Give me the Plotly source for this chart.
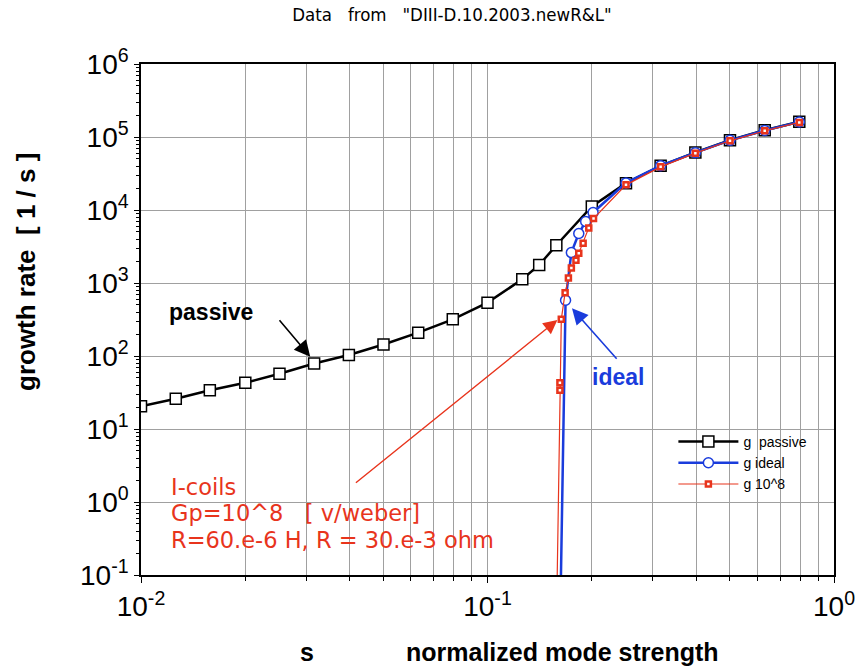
import plotly.graph_objects as go

# ---- data ----
s_passive = [0.01, 0.0126, 0.0158, 0.02, 0.0251, 0.0316, 0.0398, 0.0501, 0.0631, 0.0794,
             0.1, 0.126, 0.141, 0.158, 0.2, 0.251, 0.316, 0.398, 0.501, 0.631, 0.794]
g_passive = [20.5, 26, 34, 43, 57, 79, 103, 144, 209, 318,
             538, 1125, 1766, 3290, 11200, 23300, 40300, 61500, 90600, 124000, 162000]

s_ideal = [0.1603, 0.168, 0.1746, 0.1834, 0.192, 0.2017, 0.251, 0.316, 0.398, 0.501, 0.631, 0.794]
g_ideal = [0.001, 580, 2610, 4770, 6950, 9250, 23500, 40500, 61000, 90000, 123000, 161000]

s_coil = [0.1565, 0.1618, 0.1618, 0.1633, 0.1675, 0.1712, 0.1746, 0.180, 0.1834, 0.1888,
          0.196, 0.2023, 0.251, 0.316, 0.398, 0.501, 0.631, 0.794]
g_coil = [0.001, 34, 43, 318, 738, 1172, 1607, 2046, 2552, 3510,
          5690, 7640, 22100, 39000, 60100, 88700, 121600, 158500]

x_tickvals = [0.01, 0.1, 1]
x_ticktext = ["10<sup>-2</sup>", "10<sup>-1</sup>", "10<sup>0</sup>"]
y_tickvals = [0.1, 1, 10, 100, 1000, 1e4, 1e5, 1e6]
y_ticktext = ["10<sup>-1</sup>", "10<sup>0</sup>", "10<sup>1</sup>", "10<sup>2</sup>",
              "10<sup>3</sup>", "10<sup>4</sup>", "10<sup>5</sup>", "10<sup>6</sup>"]

BLACK = "#000000"
BLUE = "#1a3cdc"
RED = "#e8341c"
FONT = "Arial, Liberation Sans, sans-serif"
WIDE = "DejaVu Sans, Verdana, sans-serif"
NB = "&nbsp;"

L, R, T, B = 141, 840, 64, 575
W, H = R - L, B - T


def px(xp):
    return (xp - L) / W


def py(yp):
    return (B - yp) / H


fig = go.Figure()
fig.add_trace(go.Scatter(
    x=s_passive, y=g_passive, mode="lines+markers", name="g" + NB + NB + "passive",
    line=dict(color=BLACK, width=2.5),
    marker=dict(symbol="square", size=11, color="white", line=dict(color=BLACK, width=1.5)),
))
fig.add_trace(go.Scatter(
    x=s_ideal, y=g_ideal, mode="lines+markers", name="g ideal",
    line=dict(color=BLUE, width=2.5),
    marker=dict(symbol="circle", size=10, color="white", line=dict(color=BLUE, width=1.5)),
))
fig.add_trace(go.Scatter(
    x=s_coil, y=g_coil, mode="lines+markers", name="g 10^8",
    line=dict(color=RED, width=1.2),
    marker=dict(symbol="square", size=5, color="white", line=dict(color=RED, width=2.5)),
))


def label(xp, yp, text, font, xanchor="center", angle=0):
    return dict(x=px(xp), y=py(yp), xref="paper", yref="paper", showarrow=False,
                xanchor=xanchor, yanchor="middle", textangle=angle, text=text, font=font)


anns = [
    dict(x=-1.5116, y=1.99, xref="x", yref="y", ax=-32, ay=-38, showarrow=True,
         arrowhead=2, arrowsize=2, arrowwidth=1.6, arrowcolor=BLACK, text=""),
    dict(x=-0.7562, y=2.653, xref="x", yref="y", ax=46, ay=52, showarrow=True,
         arrowhead=2, arrowsize=2, arrowwidth=1.6, arrowcolor=BLUE, text=""),
    dict(x=-0.7983, y=2.493, xref="x", yref="y", ax=-203, ay=164, showarrow=True,
         arrowhead=2, arrowsize=2, arrowwidth=1.4, arrowcolor=RED, text=""),
    label(212, 312, "<b>passive</b>", dict(family=FONT, size=23, color=BLACK)),
    label(622, 377, "<b>ideal</b>", dict(family=FONT, size=23, color=BLUE)),
    label(169, 487, "I-coils", dict(family=WIDE, size=22.5, color=RED), xanchor="left"),
    label(169, 513, "Gp=10^8" + NB * 3 + "[" + NB + "v/weber]",
          dict(family=WIDE, size=22.5, color=RED), xanchor="left"),
    label(169, 540, "R=60.e-6 H, R = 30.e-3 ohm", dict(family=WIDE, size=22.5, color=RED),
          xanchor="left"),
    # axis titles
    label(25, 272, "<b>growth rate" + NB * 2 + "[ 1 / s ]</b>",
          dict(family=FONT, size=26, color=BLACK), angle=-90),
    label(308, 652, "<b>s</b>", dict(family=FONT, size=25, color=BLACK)),
    label(566, 652, "<b>normalized mode strength</b>", dict(family=FONT, size=25, color=BLACK)),
]

fig.update_layout(
    width=867, height=667,
    margin=dict(l=L, r=867 - R, t=T, b=667 - B),
    paper_bgcolor="white", plot_bgcolor="white",
    title=dict(text="Data" + NB * 3 + "from" + NB * 3 + '"DIII-D.10.2003.newR&L"',
               x=452 / 867, xanchor="center", y=1 - 15 / 667, yanchor="middle",
               font=dict(family="DejaVu Sans Condensed, Arial, sans-serif", size=18.5, color=BLACK)),
    showlegend=True,
    legend=dict(x=px(678), y=py(426), xanchor="left", yanchor="top",
                bgcolor="rgba(0,0,0,0)", borderwidth=0, itemwidth=60,
                font=dict(family=FONT, size=14, color=BLACK), tracegroupgap=0),
    annotations=anns,
)

fig.update_xaxes(
    type="log", range=[-2, 0],
    tickvals=x_tickvals, ticktext=x_ticktext,
    tickfont=dict(family=FONT, size=28, color=BLACK),
    ticks="outside", ticklen=6, tickcolor=BLACK,
    showgrid=True, gridcolor="#a0a0a0", gridwidth=1.2,
    minor=dict(dtick="D1", showgrid=True, gridcolor="#a0a0a0", gridwidth=1.2,
               ticks="outside", ticklen=4, tickcolor=BLACK),
    showline=True, linecolor=BLACK, linewidth=1.5, mirror=True,
    zeroline=False,
)
fig.update_yaxes(
    type="log", range=[-1, 6],
    tickvals=y_tickvals, ticktext=y_ticktext,
    tickfont=dict(family=FONT, size=28, color=BLACK),
    ticks="outside", ticklen=5, tickcolor=BLACK,
    showgrid=True, gridcolor="#a0a0a0", gridwidth=1.2,
    minor=dict(dtick="D1", showgrid=False, ticks="outside", ticklen=3, tickcolor=BLACK),
    showline=True, linecolor=BLACK, linewidth=1.5, mirror=True,
    zeroline=False,
)

fig.write_html("out.html")
